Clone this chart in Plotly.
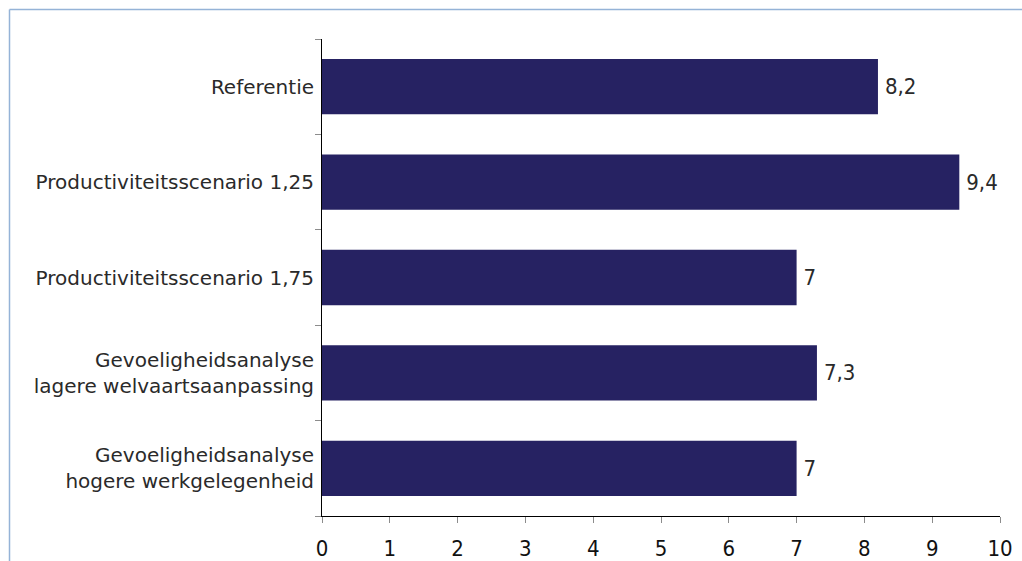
import plotly.graph_objects as go

# Scenario names (top to bottom) and their values
categories = [
    "Referentie",
    "Productiviteitsscenario 1,25",
    "Productiviteitsscenario 1,75",
    "Gevoeligheidsanalyse<br>lagere welvaartsaanpassing",
    "Gevoeligheidsanalyse<br>hogere werkgelegenheid",
]
values = [8.2, 9.4, 7.0, 7.3, 7.0]
x_ticks = [0, 1, 2, 3, 4, 5, 6, 7, 8, 9, 10]

BAR_COLOR = "#262262"
TEXT_COLOR = "#2a2a2a"
FRAME_COLOR = "#95b3d7"
NARROW = "Liberation Sans Narrow, DejaVu Sans Condensed, Arial Narrow, sans-serif"


def nl_number(v):
    """Format a number the Dutch way (decimal comma, no trailing ',0')."""
    s = f"{v:g}"
    return s.replace(".", ",")


fig = go.Figure(
    go.Bar(
        x=values,
        y=categories,
        orientation="h",
        marker=dict(color=BAR_COLOR, line=dict(width=0)),
        text=["\u2009" + nl_number(v) for v in values],
        textposition="outside",
        cliponaxis=False,
        textfont=dict(family=NARROW, size=22, color=TEXT_COLOR),
        hoverinfo="skip",
    )
)

W, H = 1022, 561
ml, mr, mt, mb = 322, 22, 39, 45
pw, ph = W - ml - mr, H - mt - mb


def px_to_paper_x(px):
    return (px - ml) / pw


def px_to_paper_y(py):
    return (H - mb - py) / ph


# Light frame around the chart (top and left edges visible)
fx0, fy0 = px_to_paper_x(9.5), px_to_paper_y(9.5)
fig.add_shape(type="line", xref="paper", yref="paper",
              x0=fx0, y0=fy0, x1=px_to_paper_x(W + 5), y1=fy0,
              line=dict(color=FRAME_COLOR, width=1.5))
fig.add_shape(type="line", xref="paper", yref="paper",
              x0=fx0, y0=fy0, x1=fx0, y1=px_to_paper_y(H + 5),
              line=dict(color=FRAME_COLOR, width=1.5))

fig.update_layout(
    width=W,
    height=H,
    margin=dict(l=ml, r=mr, t=mt, b=mb, pad=0, autoexpand=False),
    paper_bgcolor="white",
    plot_bgcolor="white",
    showlegend=False,
    bargap=0.42,
    xaxis=dict(
        range=[0, 10],
        tickvals=x_ticks,
        ticktext=[str(t) for t in x_ticks],
        showgrid=False,
        zeroline=False,
        showline=True,
        linecolor="#000000",
        linewidth=1,
        ticks="outside",
        ticklen=6,
        tickcolor="#8c8c8c",
        ticklabelstandoff=7,
        tickfont=dict(family=NARROW, size=22, color="#111111"),
        automargin=False,
        fixedrange=True,
    ),
    yaxis=dict(
        categoryorder="array",
        categoryarray=categories[::-1],
        showgrid=False,
        zeroline=False,
        showline=True,
        linecolor="#000000",
        linewidth=1,
        ticks="outside",
        tickson="boundaries",
        ticklen=6,
        tickcolor="#8c8c8c",
        ticklabelstandoff=3,
        tickfont=dict(family="DejaVu Sans, sans-serif", size=20, color=TEXT_COLOR),
        automargin=False,
        fixedrange=True,
    ),
)

fig.write_html("out.html")
